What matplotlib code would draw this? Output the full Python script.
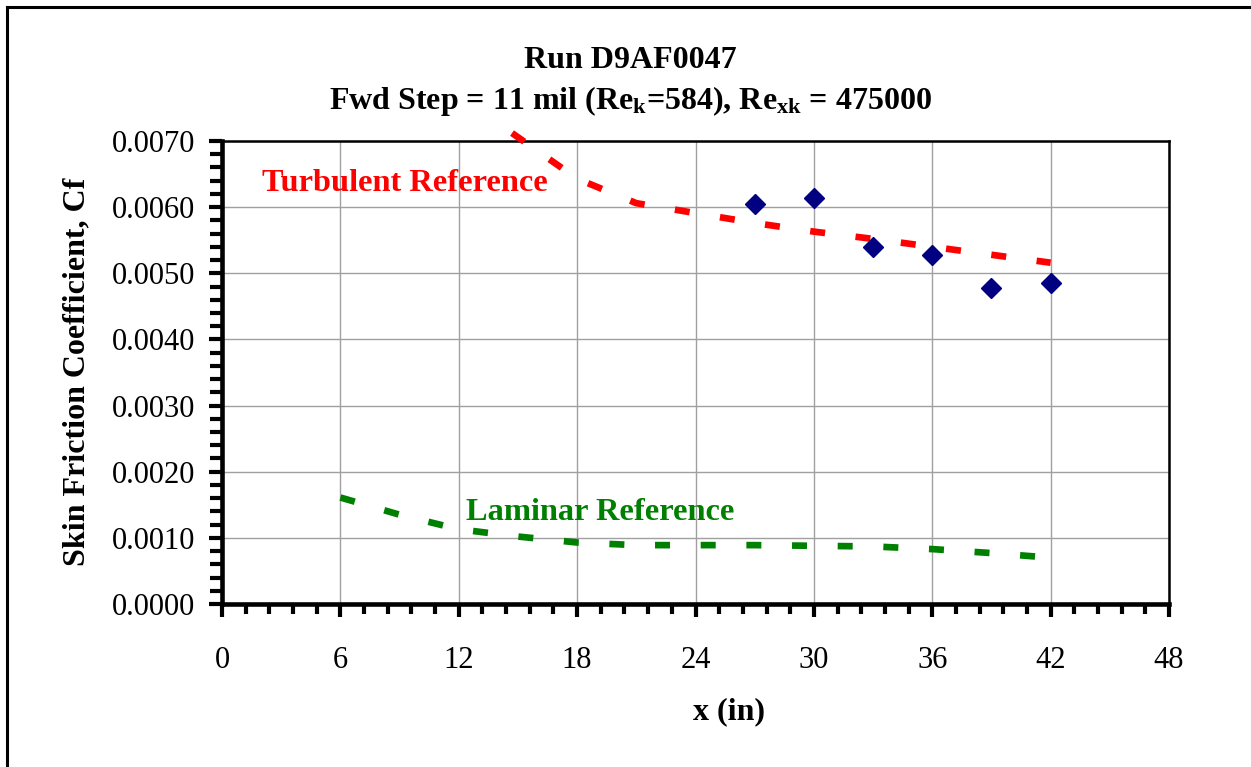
import matplotlib
matplotlib.use("Agg")
import matplotlib.pyplot as plt
from matplotlib.lines import Line2D
from matplotlib.ticker import MultipleLocator, FormatStrFormatter

# Measured skin friction along the plate
x_meas = [27, 30, 33, 36, 39, 42]
cf_meas = [0.00604, 0.00614, 0.00539, 0.00527, 0.00477, 0.00486]

# Turbulent reference curve
x_turb = [14.7, 18, 21, 24, 27, 30, 33, 36, 39, 42]
cf_turb = [0.00712, 0.00643, 0.00606, 0.00591, 0.00576, 0.00563,
           0.00552, 0.00540, 0.00528, 0.00516]

# Laminar reference curve
x_lam = [6, 9, 12, 15, 18, 21, 24, 27, 30, 33, 36, 39, 42]
cf_lam = [0.00161, 0.00135, 0.00113, 0.00102, 0.00093, 0.00089, 0.00089,
          0.00089, 0.00088, 0.00087, 0.00083, 0.00077, 0.00070]

x_ticks = [0, 6, 12, 18, 24, 30, 36, 42, 48]
y_ticks = [0.0, 0.001, 0.002, 0.003, 0.004, 0.005, 0.006, 0.007]

title_1 = "Run D9AF0047"
title_2 = r"Fwd Step = 11 mil (Re$_{\mathbf{k}}$=584), Re$_{\mathbf{xk}}$ = 475000"

plt.rcParams["font.family"] = ["Liberation Serif", "DejaVu Serif"]
plt.rcParams["mathtext.fontset"] = "custom"
plt.rcParams["mathtext.rm"] = "Liberation Serif"
plt.rcParams["mathtext.bf"] = "Liberation Serif:bold"
plt.rcParams["mathtext.it"] = "Liberation Serif:italic"

W, H = 1251, 767
fig = plt.figure(figsize=(W / 100, H / 100), dpi=100)
fig.patch.set_facecolor("white")

# outer frame (top and left edges)
fig.add_artist(Line2D([7 / W, 7 / W], [0, 1 - 7 / H], color="black", lw=2.2,
                      transform=fig.transFigure, solid_capstyle="projecting"))
fig.add_artist(Line2D([7 / W, 1], [1 - 7 / H, 1 - 7 / H], color="black", lw=2.2,
                      transform=fig.transFigure, solid_capstyle="projecting"))

left, right, top, bottom = 222, 1169, 141, 604
ax = fig.add_axes([left / W, 1 - bottom / H, (right - left) / W, (bottom - top) / H])

ax.set_xlim(0, 48)
ax.set_ylim(0, 0.007)
ax.set_xticks(x_ticks)
ax.set_yticks(y_ticks)
ax.xaxis.set_minor_locator(MultipleLocator(1.2))
ax.yaxis.set_minor_locator(MultipleLocator(0.0002))
ax.yaxis.set_major_formatter(FormatStrFormatter("%.4f"))

ax.grid(True, which="major", color="#a0a0a0", lw=1.0)
ax.set_axisbelow(True)

ax.tick_params(axis="both", which="both", direction="out", color="black",
               width=3.0, labelsize=22)
ax.tick_params(axis="y", which="major", length=9.5, pad=10)
ax.tick_params(axis="y", which="minor", length=8.5)
ax.tick_params(axis="x", which="major", length=9.5, pad=21)
ax.tick_params(axis="x", which="minor", length=7)

for side in ["left", "bottom"]:
    ax.spines[side].set_linewidth(3.3)
for side in ["top", "right"]:
    ax.spines[side].set_linewidth(1.8)

ax.plot(x_turb, cf_turb, color="#ff0000", lw=4.8, linestyle=(0, (2.25, 4.6)),
        dash_capstyle="butt", clip_on=False, zorder=3)
ax.plot(x_lam, cf_lam, color="#008000", lw=4.8, linestyle=(0, (2.25, 4.6)),
        dash_capstyle="butt", zorder=3)
ax.plot(x_meas, cf_meas, linestyle="none", marker="D", markersize=10.3,
        color="#000080", zorder=4, clip_on=False)

ax.text(2.03, 0.00635, "Turbulent Reference", color="#ff0000", fontsize=23.3,
        fontweight="bold", ha="left", va="center")
ax.text(12.37, 0.00138, "Laminar Reference", color="#008000", fontsize=23.3,
        fontweight="bold", ha="left", va="center")

fig.text(630 / W, 1 - 61 / H, title_1, fontsize=23, fontweight="bold",
         ha="center", va="center")
fig.text(630 / W, 1 - 101 / H, title_2, fontsize=23, fontweight="bold",
         ha="center", va="center")

fig.text(729 / W, 1 - 712 / H, "x (in)", fontsize=23, fontweight="bold",
         ha="center", va="center")
fig.text(77 / W, 1 - 372 / H, "Skin Friction Coefficient, Cf", fontsize=23,
         fontweight="bold", ha="center", va="center", rotation=90)

fig.savefig("out.png", dpi=100)
